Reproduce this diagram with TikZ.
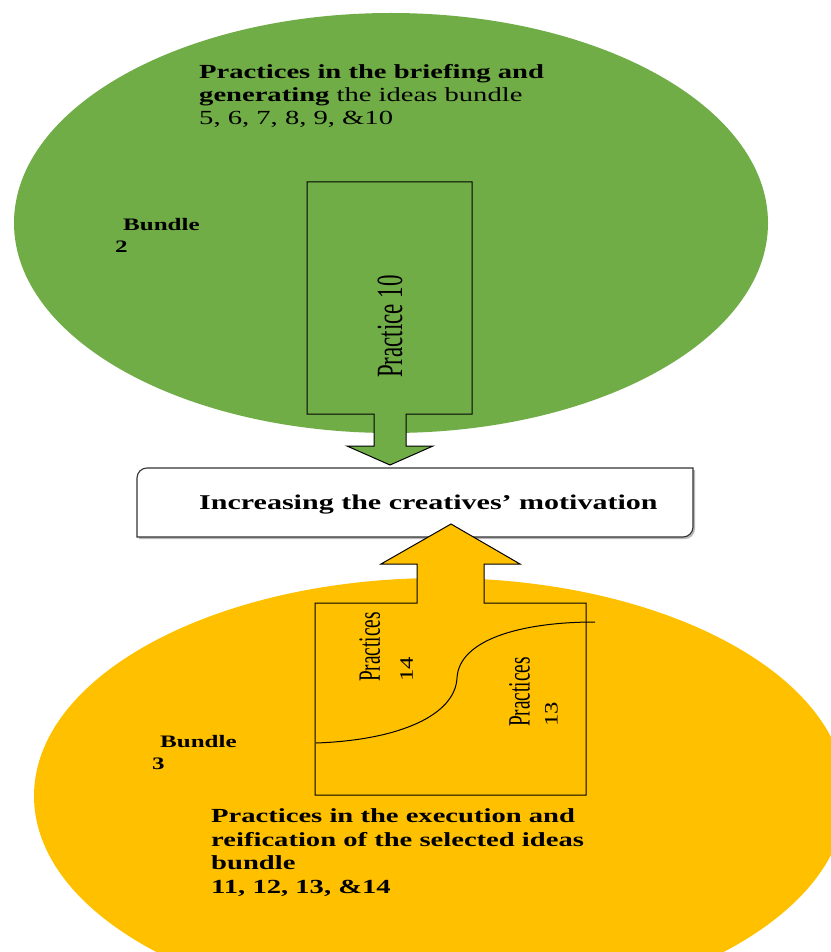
\documentclass[tikz,border=0pt]{standalone}
\usepackage{fontspec}
\setmainfont{Liberation Serif}
% wide serif for headings, narrow tall serif for the rotated practice labels
\newfontfamily\widefont[FakeStretch=1.43]{Liberation Serif}
\newfontfamily\tallfont[FakeStretch=0.62]{Liberation Serif}
\newfontfamily\numfont[FakeStretch=1.3]{Liberation Serif}
\usetikzlibrary{shapes.geometric}
\definecolor{leafgreen}{HTML}{70AD47}
\definecolor{amber}{HTML}{FFC000}

\begin{document}
\begin{tikzpicture}[x=1pt,y=-1pt,
  bundleshape/.style={ellipse, fill=#1, draw=none, inner sep=0pt},
  outline/.style={draw=black, line width=1pt, line join=miter},
  heading/.style={anchor=north west, inner sep=0pt, align=left,
    font=\widefont\fontsize{20}{23}\selectfont},
  tag/.style={anchor=north west, inner sep=0pt, align=left,
    font=\widefont\bfseries\fontsize{17.5}{22}\selectfont},
  upright/.style={rotate=90, inner sep=0pt, align=left}
]
\useasboundingbox (0,0) rectangle (830,952);
\fill[white] (0,0) rectangle (830,952);

% bundle 2: briefing and idea generation
\node[bundleshape=leafgreen, minimum width=754pt, minimum height=420pt] (green) at (391,223) {};
\filldraw[fill=leafgreen, outline]
  (307,182) -- (472,182) -- (472,414) -- (406,414) -- (406,446) -- (433,446)
  -- (390,465) -- (347,446) -- (374,446) -- (374,414) -- (307,414) -- cycle;
\node[upright, font=\tallfont\fontsize{37}{37}\selectfont] (p10) at (390,326.5) {Practice 10};
\node[heading] (brief) at (199,64.2)
  {{\bfseries Practices in the briefing and}\\{\bfseries generating} the ideas bundle\\5, 6, 7, 8, 9, \&10};
\node[tag] (b2) at (115,218) {\hspace*{8pt}Bundle\\2};

% bundle 3: execution and reification
\node[bundleshape=amber, minimum width=812pt, minimum height=436pt] (yellow) at (440,796) {};

% central outcome box (rounded top-left and bottom-right corners)
\fill[gray!55] (139,539) -- (139,480) arc[start angle=180, end angle=270, radius=10]
  -- (695,470) -- (695,529) arc[start angle=0, end angle=90, radius=10] -- cycle;
\filldraw[fill=white, draw=black!80, line width=1.1pt]
  (137,537) -- (137,478) arc[start angle=180, end angle=270, radius=10]
  -- (693,468) -- (693,527) arc[start angle=0, end angle=90, radius=10] -- cycle;
\node[anchor=base west, inner sep=0pt, font=\widefont\bfseries\fontsize{21}{24}\selectfont]
  (motive) at (199,509) {Increasing the creatives’ motivation};

\filldraw[fill=amber, outline]
  (315,603) -- (417,603) -- (417,564) -- (381,564) -- (451,524) -- (520,564)
  -- (484,564) -- (484,603) -- (586,603) -- (586,795) -- (315,795) -- cycle;
\draw[line width=1pt] (316,743) .. controls (400,740) and (455,715) .. (457,678)
  .. controls (459,640) and (520,622) .. (595,622);
\node[upright, font=\tallfont\fontsize{31}{33}\selectfont] (p14) at (386,647)
  {Practices\\{\numfont\fontsize{19}{33}\selectfont 14}};
\node[upright, font=\tallfont\fontsize{31}{28}\selectfont] (p13) at (533.5,692)
  {Practices\\{\numfont\fontsize{19}{28}\selectfont 13}};
\node[tag] (b3) at (152,735) {\hspace*{8pt}Bundle\\3};
\node[heading, font=\widefont\bfseries\fontsize{20}{23.5}\selectfont] (exec) at (211,808.5)
  {Practices in the execution and\\reification of the selected ideas\\bundle\\11, 12, 13, \&14};
\end{tikzpicture}
\end{document}
